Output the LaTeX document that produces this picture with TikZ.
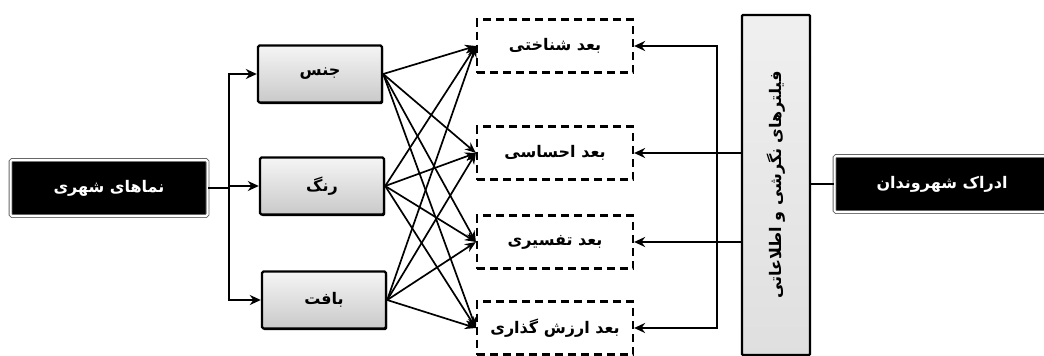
\documentclass[tikz,border=0pt]{standalone}
\usepackage{fontspec}
\usetikzlibrary{arrows.meta,shadows}
\newfontfamily\fa[Script=Arabic]{DejaVu Sans}
\TeXXeTstate=1
\newcommand{\rl}[1]{\beginR #1\endR}

\tikzset{
  fatext/.style={font=\fa\bfseries\fontsize{16}{19}\selectfont},
  darkbox/.style={draw=black!60, double=white, double distance=2pt, line width=0.8pt,
    fill=black, text=white, rounded corners=1.5pt, minimum height=56pt, fatext},
  factorbox/.style={draw, line width=2.4pt, rounded corners=1.5pt,
    top color=gray!8, bottom color=gray!42, minimum width=124pt, minimum height=57pt,
    drop shadow={shadow xshift=1pt, shadow yshift=-1.5pt, fill=black, opacity=1}, fatext},
  dimbox/.style={draw, line width=2.2pt, dash pattern=on 8pt off 5pt,
    minimum width=156pt, minimum height=53pt, fatext},
  filterbox/.style={draw, line width=2.4pt, rounded corners=1pt,
    top color=gray!12, bottom color=gray!25, minimum width=68pt, minimum height=340pt},
  thick arrow/.style={line width=2.6pt, -{Stealth[length=11pt,width=10pt]}},
  thin arrow/.style={line width=1.7pt, -{Stealth[length=11pt,width=9pt]}}
}

\begin{document}
\begin{tikzpicture}[x=1pt,y=-1pt]
\useasboundingbox (0,0) rectangle (1044,356);

% left side: facades and their three factors
\node[darkbox, minimum width=197pt] (facade) at (109,188) {\rl{نماهای شهری}};
\node[factorbox] (jens) at (320,74) {\rl{جنس}};
\node[factorbox] (rang) at (322,186) {\rl{رنگ}};
\node[factorbox] (baft) at (324,300) {\rl{بافت}};

% dimensions of perception
\node[dimbox] (dim1) at (555,46) {\rl{بعد شناختی}};
\node[dimbox] (dim2) at (555,153) {\rl{بعد احساسی}};
\node[dimbox] (dim3) at (555,242) {\rl{بعد تفسیری}};
\node[dimbox] (dim4) at (555,328) {\rl{بعد ارزش گذاری}};

% filters and citizens
\node[filterbox] (filter) at (776,185) {};
\node[rotate=90, fatext] (filtertext) at (filter.center) {\rl{فیلترهای نگرشی و اطلاعاتی}};
\node[darkbox, minimum width=215pt] (citizen) at (942,184) {\rl{ادراک شهروندان}};

\coordinate (lsplit) at (229,188);
\coordinate (rsplit) at (717,190);

\draw[line width=2.6pt] (facade.east) -- (lsplit);
\foreach \f in {jens,rang,baft}
  \draw[thick arrow] (lsplit) |- (\f.west);

\foreach \f in {jens,rang,baft}
  \foreach \d in {dim1,dim2,dim3,dim4}
    \draw[thin arrow] (\f.east) -- (\d.west);

\draw[thick arrow] (rsplit) |- (dim1.east);
\draw[thick arrow] (rsplit) |- (dim4.east);
\draw[thick arrow] (filter.west |- dim2.east) -- (dim2.east);
\draw[thick arrow] (filter.west |- dim3.east) -- (dim3.east);
\draw[line width=2.6pt] (filter.east |- citizen.west) -- (citizen.west);
\end{tikzpicture}
\end{document}
